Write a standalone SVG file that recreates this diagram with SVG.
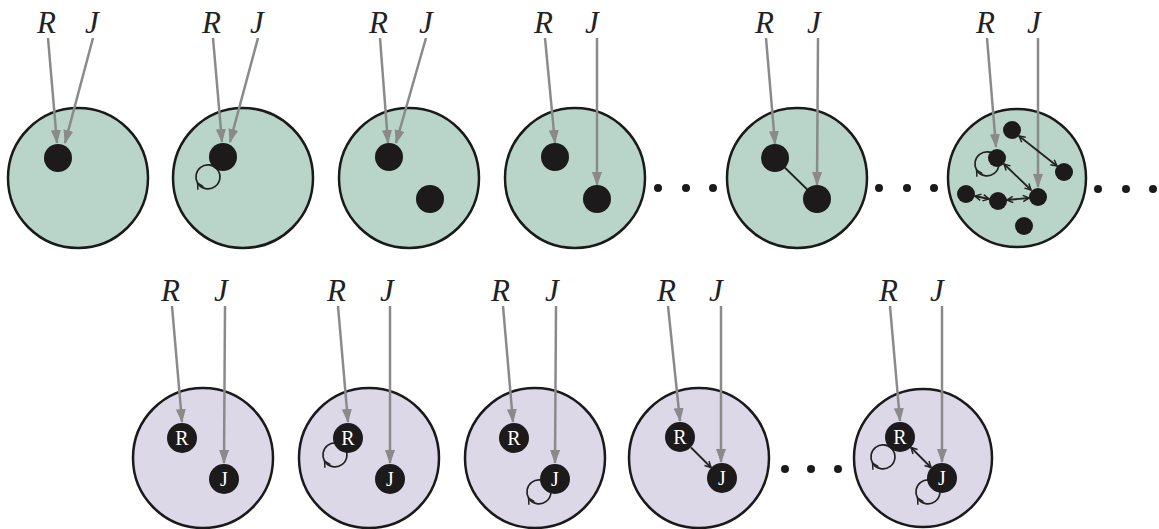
<svg xmlns="http://www.w3.org/2000/svg" width="1159" height="529" viewBox="0 0 1159 529">
<style>
.bg{fill:#fff}
.cg{fill:#b9d5c9;stroke:#1a1a1a;stroke-width:2.5}
.cp{fill:#dcd8e8;stroke:#1a1a1a;stroke-width:2.5}
.dot{fill:#1c1a1a}
.ell{fill:#1c1a1a}
.lab{font-family:"Liberation Serif","Times New Roman",serif;font-style:italic;font-size:31px;fill:#222}
.nl{font-family:"Liberation Serif","Times New Roman",serif;font-size:20px;fill:#fff;text-anchor:middle}
.ga{stroke:#8a8a8a;stroke-width:2.5;fill:none;marker-end:url(#gh)}
.bl{stroke:#222;stroke-width:1.8;fill:none}
.b1{marker-end:url(#ch)}
.b2{marker-start:url(#ch);marker-end:url(#ch)}
.lp{stroke:#222;stroke-width:1.7;fill:none;marker-mid:url(#ch)}
</style>
<defs>
<marker id="gh" markerUnits="userSpaceOnUse" viewBox="0 0 14 10" markerWidth="14" markerHeight="10" refX="13" refY="5" orient="auto">
<path d="M0,0 L14,5 L0,10 z" fill="#8a8a8a"/>
</marker>
<marker id="ch" markerUnits="userSpaceOnUse" viewBox="0 0 8 8" markerWidth="8" markerHeight="8" refX="7" refY="4" orient="auto-start-reverse">
<path d="M1,0.8 L7,4 L1,7.2" fill="none" stroke="#222" stroke-width="1.5"/>
</marker>
</defs>
<rect class="bg" width="1159" height="529"/>

<!-- top row panels -->
<g id="panel-t1"><circle class="cg" cx="78" cy="178" r="70"/></g>
<g id="panel-t2"><circle class="cg" cx="243" cy="178" r="70"/></g>
<g id="panel-t3"><circle class="cg" cx="409" cy="178" r="70"/></g>
<g id="panel-t4"><circle class="cg" cx="575" cy="178" r="70"/></g>
<g id="panel-t5"><circle class="cg" cx="797" cy="178" r="70"/></g>
<g id="panel-t6"><circle class="cg" cx="1017" cy="178" r="69"/></g>
<!-- bottom row panels -->
<g id="panel-b1"><circle class="cp" cx="203" cy="458" r="70"/></g>
<g id="panel-b2"><circle class="cp" cx="369" cy="458" r="70"/></g>
<g id="panel-b3"><circle class="cp" cx="535" cy="458" r="70"/></g>
<g id="panel-b4"><circle class="cp" cx="699" cy="458" r="70"/></g>
<g id="panel-b5"><circle class="cp" cx="923" cy="458" r="69"/></g>

<!-- ellipses -->
<g id="ellipses">
<circle class="ell" cx="658" cy="188" r="4"/><circle class="ell" cx="686" cy="188" r="4"/><circle class="ell" cx="713" cy="188" r="4"/>
<circle class="ell" cx="879" cy="188" r="4"/><circle class="ell" cx="907" cy="188" r="4"/><circle class="ell" cx="934" cy="188" r="4"/>
<circle class="ell" cx="1098" cy="189" r="4"/><circle class="ell" cx="1126" cy="189" r="4"/><circle class="ell" cx="1153" cy="189" r="4"/>
<circle class="ell" cx="785" cy="469" r="4"/><circle class="ell" cx="811" cy="469" r="4"/><circle class="ell" cx="838" cy="469" r="4"/>
</g>

<!-- labels -->
<g id="labels" class="lab">
<text x="37" y="33">R</text><text x="85" y="33">J</text>
<text x="202" y="33">R</text><text x="250" y="33">J</text>
<text x="369" y="33">R</text><text x="419" y="33">J</text>
<text x="534" y="33">R</text><text x="585" y="33">J</text>
<text x="755" y="33">R</text><text x="807" y="33">J</text>
<text x="976" y="33">R</text><text x="1027" y="33">J</text>
<text x="161" y="301">R</text><text x="214" y="301">J</text>
<text x="327" y="301">R</text><text x="380" y="301">J</text>
<text x="491" y="301">R</text><text x="545" y="301">J</text>
<text x="657" y="301">R</text><text x="709" y="301">J</text>
<text x="879" y="301">R</text><text x="930" y="301">J</text>
</g>

<!-- connectors -->
<g id="connectors">
<line class="ga" x1="48" y1="38" x2="57" y2="143"/>
<line class="ga" x1="93" y1="38" x2="65" y2="143"/>
<line class="ga" x1="213" y1="38" x2="222" y2="142"/>
<line class="ga" x1="258" y1="38" x2="230" y2="142"/>
<line class="ga" x1="380" y1="38" x2="388" y2="143"/>
<line class="ga" x1="426" y1="38" x2="396" y2="143"/>
<line class="ga" x1="545" y1="38" x2="555" y2="143"/>
<line class="ga" x1="597" y1="38" x2="597" y2="185"/>
<line class="ga" x1="766" y1="38" x2="775" y2="144"/>
<line class="ga" x1="818" y1="38" x2="817" y2="185"/>
<line class="ga" x1="987" y1="38" x2="996" y2="147"/>
<line class="ga" x1="1038" y1="38" x2="1038" y2="187"/>

<line class="ga" x1="172" y1="306" x2="182" y2="422"/>
<line class="ga" x1="225" y1="306" x2="224" y2="463"/>
<line class="ga" x1="338" y1="306" x2="348" y2="422"/>
<line class="ga" x1="390" y1="306" x2="390" y2="463"/>
<line class="ga" x1="503" y1="306" x2="513" y2="422"/>
<line class="ga" x1="556" y1="306" x2="555" y2="463"/>
<line class="ga" x1="668" y1="306" x2="680" y2="421"/>
<line class="ga" x1="721" y1="306" x2="721" y2="462"/>
<line class="ga" x1="890" y1="306" x2="900" y2="421"/>
<line class="ga" x1="942" y1="306" x2="942" y2="462"/>

<!-- black links -->
<line class="bl" x1="775" y1="158" x2="817" y2="199"/>
<line class="bl b2" x1="1019" y1="136" x2="1057" y2="166"/>
<line class="bl b2" x1="1004" y1="164" x2="1031" y2="190"/>
<line class="bl b2" x1="975" y1="196" x2="989" y2="199"/>
<line class="bl b2" x1="1007" y1="200" x2="1029" y2="198"/>
<line class="bl b1" x1="691" y1="447.5" x2="711" y2="467.5"/>
<line class="bl b2" x1="911" y1="447.5" x2="931" y2="467.5"/>

<!-- self loops -->
<path class="lp" d="M216.5,168.5 A12,12 0 1 1 197.6,183 A12,12 0 0 1 216.5,168.5"/>
<path class="lp" d="M995.5,155.5 A12,12 0 1 1 976.6,170 A12,12 0 0 1 995.5,155.5"/>
<path class="lp" d="M343.5,446.5 A12,12 0 1 1 324.6,461 A12,12 0 0 1 343.5,446.5"/>
<path class="lp" d="M547.5,483.5 A12,12 0 1 1 528.6,498 A12,12 0 0 1 547.5,483.5"/>
<path class="lp" d="M891.5,448.5 A12,12 0 1 1 872.6,463 A12,12 0 0 1 891.5,448.5"/>
<path class="lp" d="M936.5,483.5 A12,12 0 1 1 917.6,498 A12,12 0 0 1 936.5,483.5"/>
</g>

<!-- nodes -->
<g id="n-t1"><circle class="dot" cx="58" cy="158" r="14"/></g>
<g id="n-t2"><circle class="dot" cx="223" cy="157" r="14"/></g>
<g id="n-t3a"><circle class="dot" cx="389" cy="157" r="14"/></g>
<g id="n-t3b"><circle class="dot" cx="430" cy="199" r="14"/></g>
<g id="n-t4a"><circle class="dot" cx="555" cy="157" r="14"/></g>
<g id="n-t4b"><circle class="dot" cx="597" cy="199" r="14"/></g>
<g id="n-t5a"><circle class="dot" cx="775" cy="158" r="14"/></g>
<g id="n-t5b"><circle class="dot" cx="817" cy="199" r="14"/></g>
<g id="n-t6a"><circle class="dot" cx="1012" cy="130" r="9"/></g>
<g id="n-t6b"><circle class="dot" cx="997" cy="158" r="9"/></g>
<g id="n-t6c"><circle class="dot" cx="1064" cy="172" r="9"/></g>
<g id="n-t6d"><circle class="dot" cx="966" cy="194" r="9"/></g>
<g id="n-t6e"><circle class="dot" cx="998" cy="201" r="9"/></g>
<g id="n-t6f"><circle class="dot" cx="1038" cy="197" r="9"/></g>
<g id="n-t6g"><circle class="dot" cx="1024" cy="226" r="9"/></g>

<g id="n-b1R"><circle class="dot" cx="182" cy="438" r="15"/><text class="nl" x="182" y="445">R</text></g>
<g id="n-b1J"><circle class="dot" cx="224" cy="479" r="15"/><text class="nl" x="224" y="486">J</text></g>
<g id="n-b2R"><circle class="dot" cx="348" cy="438" r="15"/><text class="nl" x="348" y="445">R</text></g>
<g id="n-b2J"><circle class="dot" cx="390" cy="479" r="15"/><text class="nl" x="390" y="486">J</text></g>
<g id="n-b3R"><circle class="dot" cx="514" cy="438" r="15"/><text class="nl" x="514" y="445">R</text></g>
<g id="n-b3J"><circle class="dot" cx="555" cy="479" r="15"/><text class="nl" x="555" y="486">J</text></g>
<g id="n-b4R"><circle class="dot" cx="680" cy="437" r="15"/><text class="nl" x="680" y="444">R</text></g>
<g id="n-b4J"><circle class="dot" cx="722" cy="478" r="15"/><text class="nl" x="722" y="485">J</text></g>
<g id="n-b5R"><circle class="dot" cx="900" cy="437" r="15"/><text class="nl" x="900" y="444">R</text></g>
<g id="n-b5J"><circle class="dot" cx="942" cy="478" r="15"/><text class="nl" x="942" y="485">J</text></g>
</svg>
